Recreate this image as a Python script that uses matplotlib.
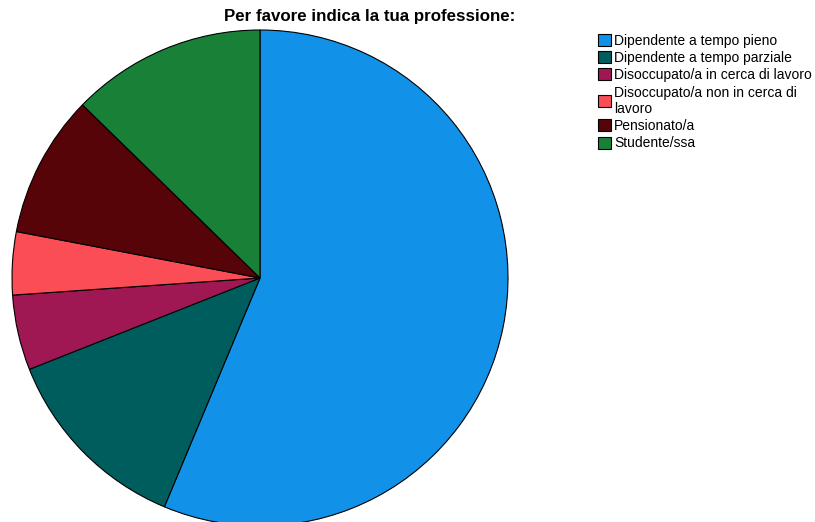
import matplotlib
matplotlib.use('Agg')
import matplotlib.pyplot as plt
from matplotlib.patches import Patch

plt.rcParams['font.family'] = ['Liberation Sans', 'DejaVu Sans']

# Data (percent shares)
categories = ['Dipendente a tempo pieno', 'Dipendente a tempo parziale',
              'Disoccupato/a in cerca di lavoro',
              'Disoccupato/a non in cerca di\nlavoro',
              'Pensionato/a', 'Studente/ssa']
shares = [56.3, 12.7, 4.9, 4.1, 9.3, 12.7]
colors = ['#1192e8', '#005d5d', '#9f1853', '#fa4d56', '#570408', '#198038']

W, H = 815, 522
cx, cy, r = 260, 278, 248  # pie centre / radius in pixels

fig = plt.figure(figsize=(W / 100, H / 100), dpi=100)
ax = fig.add_axes([0, 0, 1, 1])
ax.pie(shares, colors=colors, startangle=90, counterclock=False,
       wedgeprops=dict(edgecolor='black', linewidth=0.8))
ax.set_aspect('auto')
ax.set_xlim(-cx / r, (W - cx) / r)
ax.set_ylim(-(H - cy) / r, cy / r)
ax.axis('off')

fig.text(370 / W, 1 - 17 / H, 'Per favore indica la tua professione:',
         ha='center', va='center', fontsize=12.2, fontweight='bold')

handles = [Patch(facecolor=c, edgecolor='black', linewidth=0.8) for c in colors]
fig.legend(handles, categories, loc='upper left',
           bbox_to_anchor=(592 / W, 1 - 28 / H), frameon=False,
           fontsize=10, handlelength=0.95, handleheight=0.95,
           handletextpad=0.25, labelspacing=0.24, borderaxespad=0)

fig.savefig('out.png', dpi=100)
